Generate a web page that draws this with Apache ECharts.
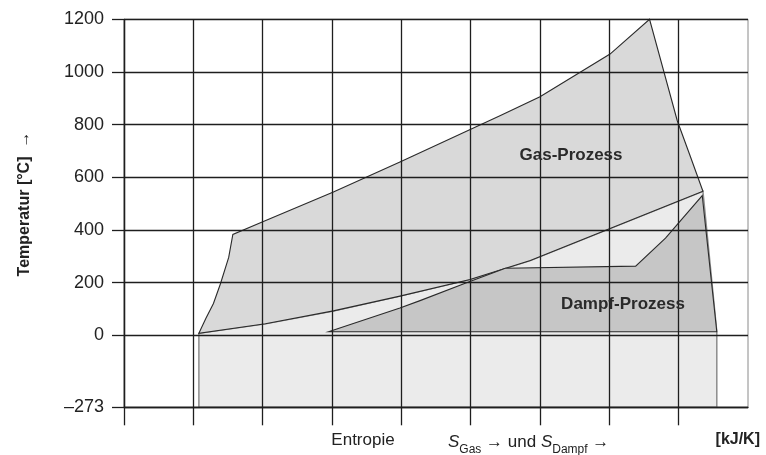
<!DOCTYPE html>
<html><head><meta charset="utf-8">
<script src="https://cdn.jsdelivr.net/npm/echarts@6/dist/echarts.min.js"></script>
<style>html,body{margin:0;padding:0;background:#fff}#c{width:766px;height:455px}</style>
</head><body><div id="c"></div>
<script>
// Tick values
const yTicks = [-273, 0, 200, 400, 600, 800, 1000, 1200];
const xTicks = [0, 1, 2, 3, 4, 5, 6, 7, 8];

// Gas process (entropy units, temperature °C)
const gasS = [1.08, 1.18, 1.29, 1.39, 1.51, 1.57, 2.01, 3.02, 3.98, 5.43, 6.00, 7.01, 7.58, 7.98, 8.17, 8.35, 5.86, 4.99, 3.98, 3.02, 2.04];
const gasT = [8, 64, 121, 195, 296, 383, 432, 544, 658, 835, 906, 1068, 1200, 815, 678, 547, 284, 212, 149, 93, 44];

// Steam process
const dampfS = [2.95, 3.98, 4.27, 4.94, 5.50, 7.38, 7.81, 8.34, 8.55];
const dampfT = [14, 104, 132, 200, 255, 263, 369, 531, 14];

// Light region under the gas cooling line down to absolute zero
const lightS = [1.08, 1.08, 2.04, 3.02, 3.98, 4.99, 5.86, 8.35, 8.55, 8.55];
const lightT = [-273, 8, 44, 93, 149, 212, 284, 547, 14, -273];

const pair = (s, t) => s.map((v, i) => [v, t[i]]);
const shapes = [
  { pts: pair(lightS, lightT), fill: '#ebebeb', stroke: '#8c8c8c', w: 1.5 },
  { pts: pair(gasS, gasT), fill: '#d9d9d9', stroke: '#2a2a2a', w: 1.1 },
  { pts: pair(dampfS, dampfT), fill: '#c6c6c6', stroke: '#2a2a2a', w: 1.1 }
];

const gridColor = '#1e1e1e';
const chart = echarts.init(document.getElementById('c'), null, { renderer: 'canvas' });

const series = shapes.map((sh, k) => ({
  type: 'custom',
  z: 2 + k,
  clip: false,
  silent: true,
  data: sh.pts,
  renderItem: function (params, api) {
    if (params.dataIndex !== 0) return null;
    const pts = sh.pts.map(p => api.coord(p));
    return { type: 'polygon', shape: { points: pts }, style: { fill: sh.fill, stroke: sh.stroke, lineWidth: sh.w } };
  }
}));

const option = {
  animation: false,
  backgroundColor: '#fff',
  grid: { left: 124, top: 19.3, right: 18, bottom: 47.7, show: true, borderColor: '#8a8a8a', borderWidth: 1 },
  xAxis: {
    type: 'value', min: 0, max: 9, interval: 1, z: 10,
    axisLine: { show: true, onZero: false, lineStyle: { color: gridColor, width: 1.3 } },
    axisTick: { show: true, length: 18, customValues: xTicks, lineStyle: { color: gridColor, width: 1.3 } },
    axisLabel: { show: false },
    splitLine: { show: true, lineStyle: { color: gridColor, width: 1.3 } }
  },
  yAxis: {
    type: 'value', min: -273, max: 1200, z: 10,
    axisLine: { show: true, onZero: false, lineStyle: { color: gridColor, width: 1.3 } },
    axisTick: { show: true, length: 12, customValues: yTicks, lineStyle: { color: gridColor, width: 1.3 } },
    axisLabel: {
      customValues: yTicks, margin: 20, fontSize: 18, color: '#222', fontFamily: 'Liberation Sans',
      formatter: v => (v < 0 ? '\u2013' + Math.abs(v) : String(v))
    },
    splitLine: { show: true, lineStyle: { color: gridColor, width: 1.3 } }
  },
  graphic: [
    { type: 'text', z: 100, x: 571, y: 155, style: { text: 'Gas-Prozess', font: 'bold 17px "Liberation Sans"', fill: '#2a2a2a', textAlign: 'center', textVerticalAlign: 'middle' } },
    { type: 'text', z: 100, x: 623, y: 304, style: { text: 'Dampf-Prozess', font: 'bold 17px "Liberation Sans"', fill: '#2a2a2a', textAlign: 'center', textVerticalAlign: 'middle' } },
    { type: 'text', z: 100, x: 25, y: 204, rotation: Math.PI / 2, style: { text: 'Temperatur [°C]  \u2192', font: 'bold 16px "Liberation Sans"', fill: '#222', textAlign: 'center', textVerticalAlign: 'middle' } },
    { type: 'text', z: 100, x: 363, y: 440, style: { text: 'Entropie', font: '17px "Liberation Sans"', fill: '#222', textAlign: 'center', textVerticalAlign: 'middle' } },
    { type: 'text', z: 100, x: 448, y: 440, style: {
        text: '{s|S}{sub|Gas}{n| \u2192 und }{s|S}{sub|Dampf}{n| \u2192}',
        textVerticalAlign: 'middle', textAlign: 'left',
        rich: {
          s: { font: 'italic 17px "Liberation Sans"', fill: '#222', verticalAlign: 'bottom', lineHeight: 22 },
          sub: { font: '12px "Liberation Sans"', fill: '#222', verticalAlign: 'bottom', lineHeight: 22, padding: [0, 0, -5, 0] },
          n: { font: '17px "Liberation Sans"', fill: '#222', verticalAlign: 'bottom', lineHeight: 22 }
        }
      } },
    { type: 'text', z: 100, x: 760, y: 440, style: { text: '[kJ/K]', font: 'bold 16px "Liberation Sans"', fill: '#222', textAlign: 'right', textVerticalAlign: 'middle' } }
  ],
  series: series
};
chart.setOption(option);
</script></body></html>
